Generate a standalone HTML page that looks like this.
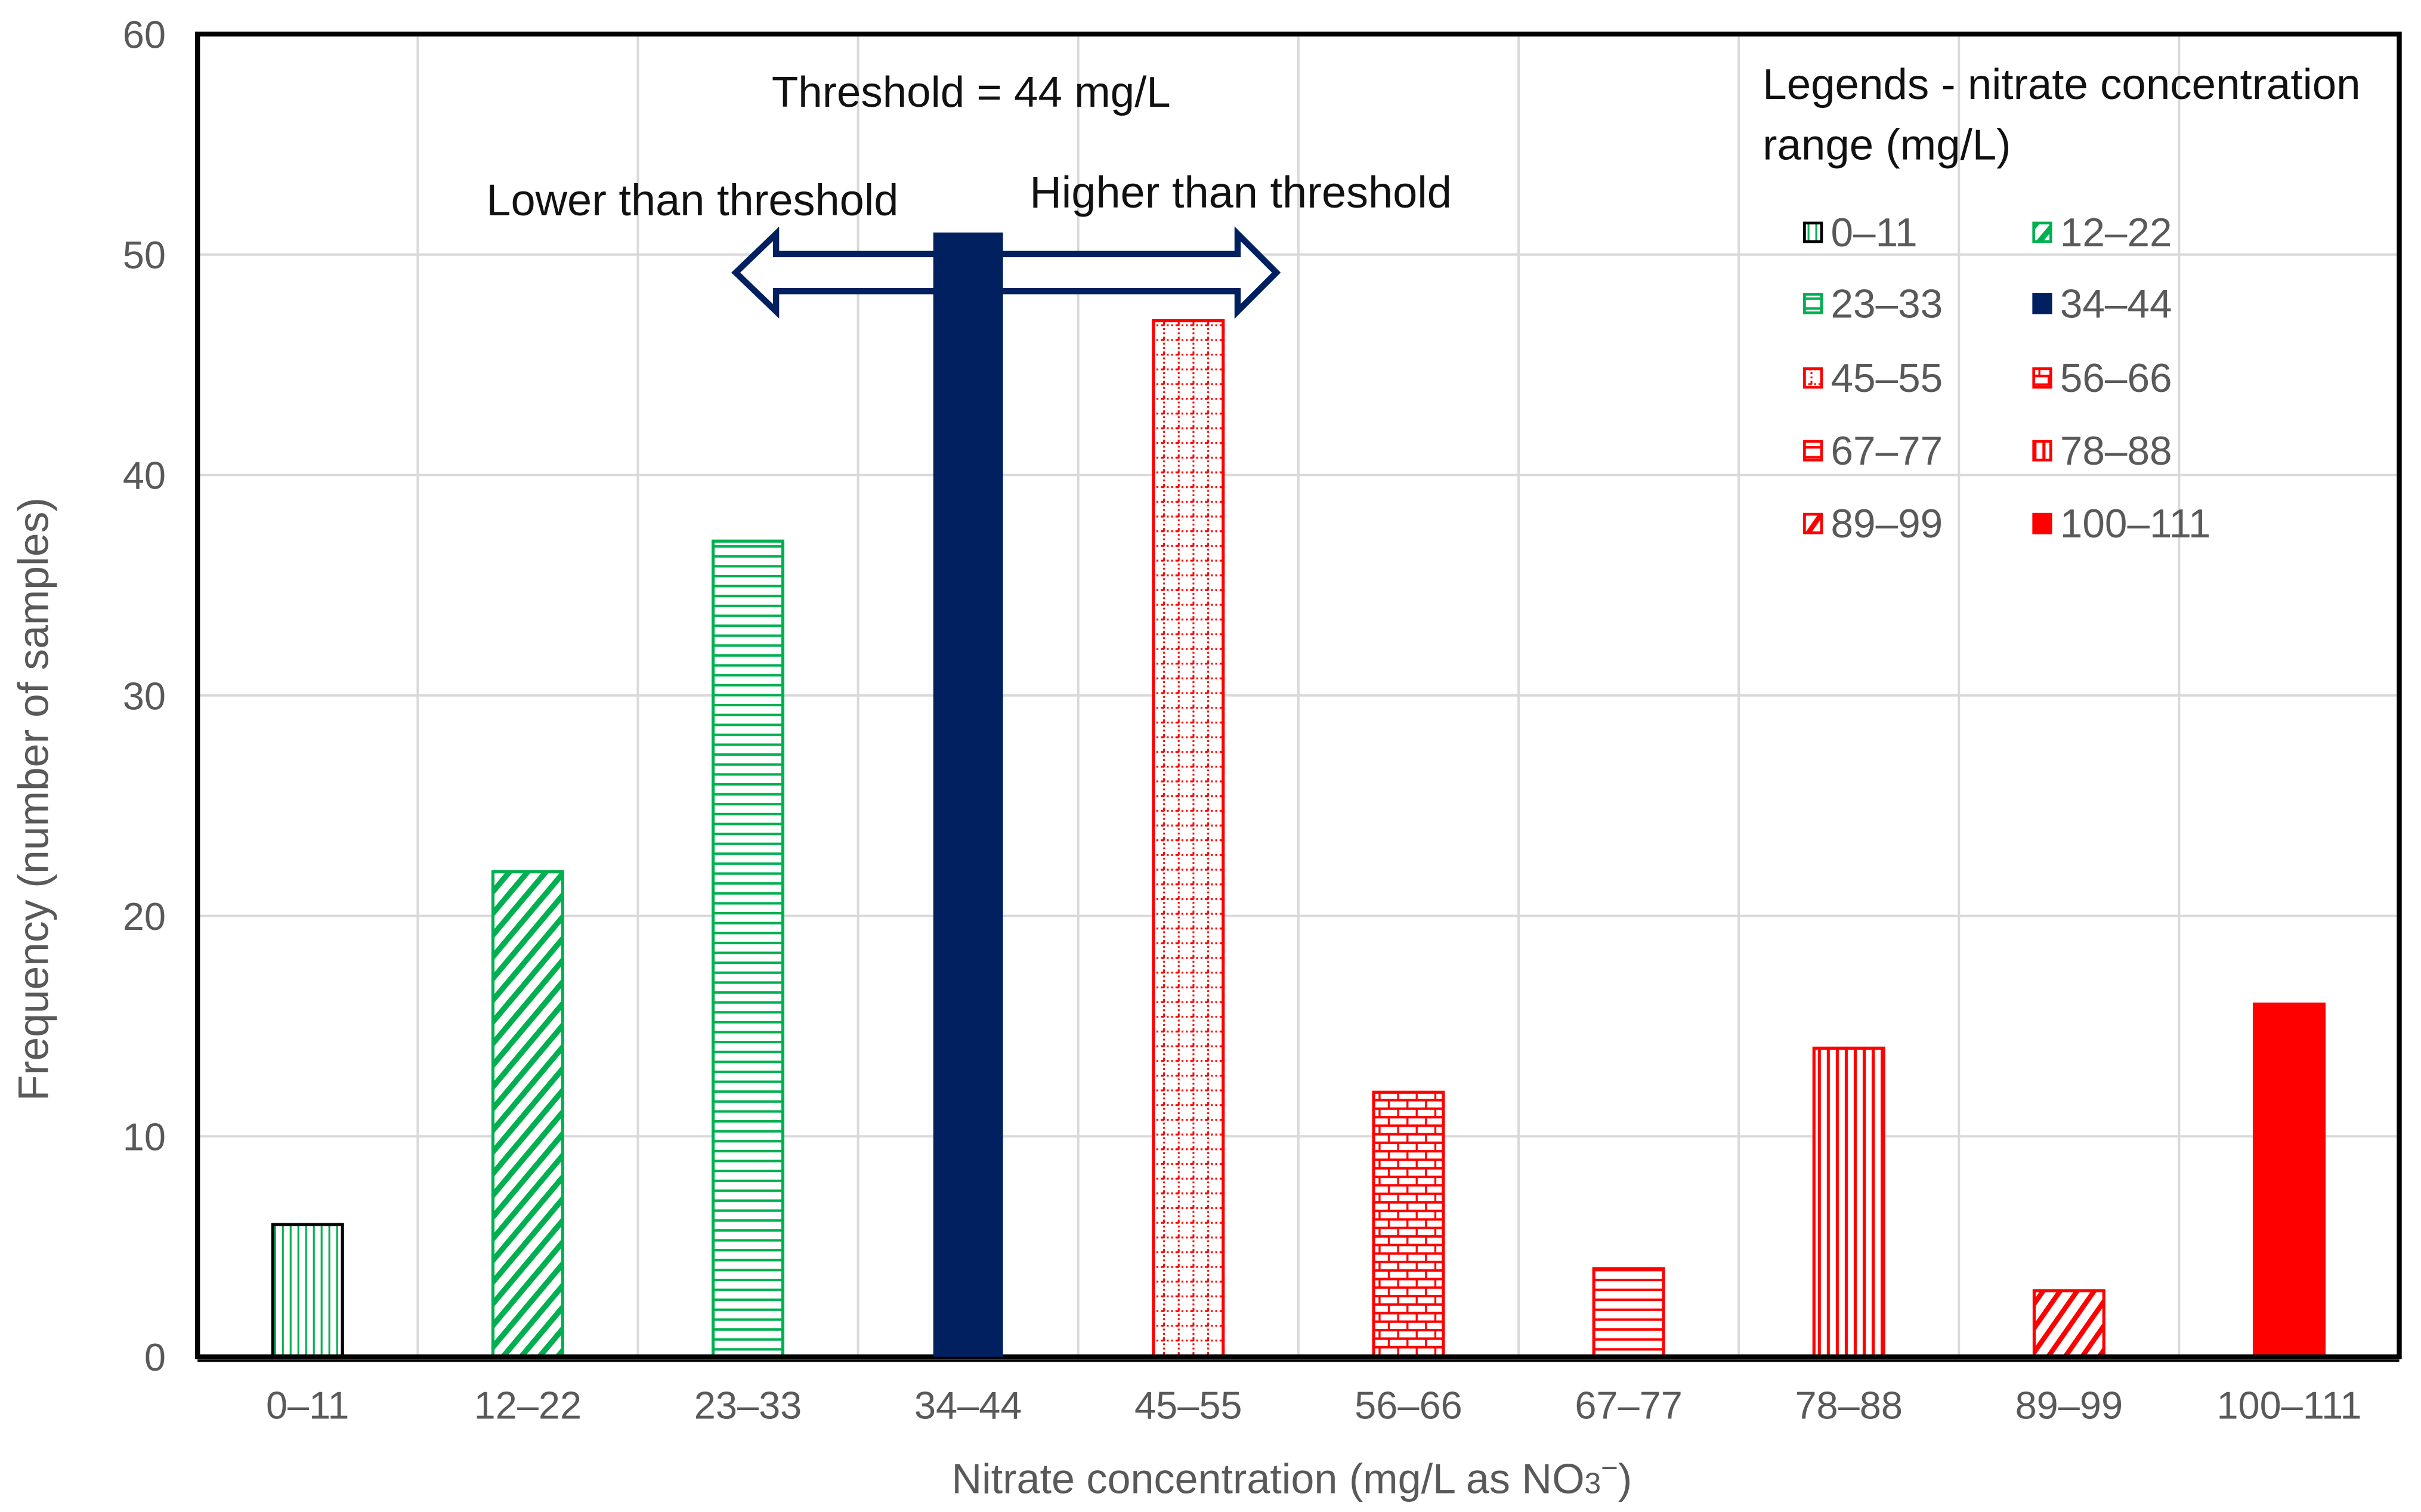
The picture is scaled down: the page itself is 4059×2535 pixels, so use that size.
<!DOCTYPE html>
<html><head><meta charset="utf-8"><style>
html,body{margin:0;padding:0;background:#fff;}
svg{display:block;}
text{font-family:"Liberation Sans",sans-serif;}
</style></head><body>
<svg id="chart" width="4059" height="2535" viewBox="0 0 1563 976.2" xmlns="http://www.w3.org/2000/svg">
<defs>
<pattern id="p0" patternUnits="userSpaceOnUse" width="5" height="5"><rect width="5" height="5" fill="#fff"/><rect x="2" width="1.2" height="5" fill="#00b050"/></pattern>
<pattern id="p1" patternUnits="userSpaceOnUse" width="9" height="9" patternTransform="rotate(40)"><rect width="9" height="9" fill="#fff"/><rect width="3.6" height="9" fill="#00b050"/></pattern>
<pattern id="p2" patternUnits="userSpaceOnUse" width="6.4" height="6.4"><rect width="6.4" height="6.4" fill="#fff"/><rect y="0" width="6.4" height="1.6" fill="#00b050"/></pattern>
<pattern id="p4" patternUnits="userSpaceOnUse" width="9.5" height="9.5"><rect width="9.5" height="9.5" fill="#fff"/><line x1="0" y1="1" x2="9.5" y2="1" stroke="#f00" stroke-width="1.2" stroke-dasharray="1.2,1.6"/><line x1="1" y1="0" x2="1" y2="9.5" stroke="#f00" stroke-width="1.2" stroke-dasharray="1.2,1.6"/></pattern>
<pattern id="p5" patternUnits="userSpaceOnUse" width="12" height="11"><rect width="12" height="11" fill="#fff"/><rect width="12" height="1.6" fill="#f00"/><rect y="5.5" width="12" height="1.6" fill="#f00"/><rect x="2" width="1.3" height="5.5" fill="#f00"/><rect x="8" y="5.5" width="1.3" height="5.5" fill="#f00"/></pattern>
<pattern id="p6" patternUnits="userSpaceOnUse" width="10" height="6.4"><rect width="10" height="6.4" fill="#fff"/><rect width="10" height="1.6" fill="#f00"/></pattern>
<pattern id="p7" patternUnits="userSpaceOnUse" width="5.8" height="5"><rect width="5.8" height="5" fill="#fff"/><rect x="2" width="2" height="5" fill="#f00"/></pattern>
<pattern id="p8" patternUnits="userSpaceOnUse" width="9" height="9" patternTransform="rotate(35)"><rect width="9" height="9" fill="#fff"/><rect width="3.2" height="9" fill="#f00"/></pattern>
</defs>
<g id="grid"></g>
<g id="bars"></g>
<g id="axes"></g>
<g>
<text x="627" y="69" font-size="28" text-anchor="middle" fill="#111">Threshold = 44 mg/L</text>
<text x="447" y="139" font-size="28.5" text-anchor="middle" fill="#111">Lower than threshold</text>
<text x="801" y="134" font-size="28.5" text-anchor="middle" fill="#111">Higher than threshold</text>
<path d="M475,176 L501,151 L501,164 L799,164 L799,151 L824,176 L799,201 L799,188 L501,188 L501,201 Z" fill="#fff" stroke="#002060" stroke-width="4" stroke-linejoin="miter"/>
</g>
<g id="bars2"></g>
<g id="legend">
<text x="1138" y="64" font-size="28" fill="#111">Legends - nitrate concentration</text>
<text x="1138" y="103" font-size="28" fill="#111">range (mg/L)</text>
</g>
<text x="834" y="964" font-size="27" text-anchor="middle" fill="#595959">Nitrate concentration (mg/L as NO<tspan font-size="19">3</tspan><tspan dy="-10" font-size="19">−</tspan><tspan dy="10">)</tspan></text>
<text transform="translate(31,516) rotate(-90)" font-size="27.5" text-anchor="middle" fill="#595959">Frequency (number of samples)</text>
</svg>
<script>
const categories = ["0–11","12–22","23–33","34–44","45–55","56–66","67–77","78–88","89–99","100–111"];
const frequencies = [6,22,37,51,47,12,4,14,3,16];
const yTicks = [0,10,20,30,40,50,60];
const fills = ["url(#p0)","url(#p1)","url(#p2)","#002060","url(#p4)","url(#p5)","url(#p6)","url(#p7)","url(#p8)","#ff0000"];
const strokes = ["#000","#00b050","#00b050","#002060","#f00","#f00","#f00","#f00","#f00","#f00"];
const NS="http://www.w3.org/2000/svg";
const L=127.5,R=1549,T=22,B=876,yMax=60;
const band=(R-L)/categories.length, bw=45;
const xc=i=>L+band*(i+0.5);
const ys=v=>B-(v/yMax)*(B-T);
function mk(tag,attrs,parent){const e=document.createElementNS(NS,tag);for(const k in attrs)e.setAttribute(k,attrs[k]);parent.appendChild(e);return e;}
const grid=document.getElementById('grid'),bars=document.getElementById('bars'),bars2=document.getElementById('bars2'),axes=document.getElementById('axes'),legend=document.getElementById('legend');
yTicks.forEach(v=>{
  const g=mk('line',{x1:L,x2:R,y1:ys(v),y2:ys(v),stroke:'#d9d9d9','stroke-width':1.5},grid);
  
  
  const t=mk('text',{x:107,y:ys(v)+9,'font-size':25,'text-anchor':'end',fill:'#595959'},axes);
  t.textContent=v;
  
  
});
for(let i=1;i<categories.length;i++){
  const g=mk('line',{x1:L+band*i,x2:L+band*i,y1:T,y2:B,stroke:'#d9d9d9','stroke-width':1.5},grid);
  
  
}
categories.forEach((c,i)=>{
  const parent = i===3?bars2:bars;
  const r=mk('rect',{x:xc(i)-bw/2,y:ys(frequencies[i]),width:bw,height:B-ys(frequencies[i]),fill:fills[i],stroke:strokes[i],'stroke-width':i===3?0:2},parent);
  
  
  const t=mk('text',{x:xc(i),y:916,'font-size':25,'text-anchor':'middle',fill:'#595959'},axes);
  t.textContent=c;
  
  
  const col=i%2,row=Math.floor(i/2);
  const ix=col?1313:1165, iy=[150,196,244,291,338][row];
  const sw=mk('rect',{x:ix,y:iy-6,width:11,height:12,fill:fills[i],stroke:strokes[i],'stroke-width':1.8},legend);
  
  
  const lt=mk('text',{x:ix+17,y:iy+9,'font-size':26,fill:'#595959'},legend);
  lt.textContent=c;
  
  
});
const frame=mk('rect',{x:L,y:T,width:R-L,height:B-T,fill:'none',stroke:'#000','stroke-width':3.2},axes);


const base=mk('line',{x1:L,x2:R,y1:B+2.5,y2:B+2.5,stroke:'#000','stroke-width':1.6},axes);


</script>
</body></html>
